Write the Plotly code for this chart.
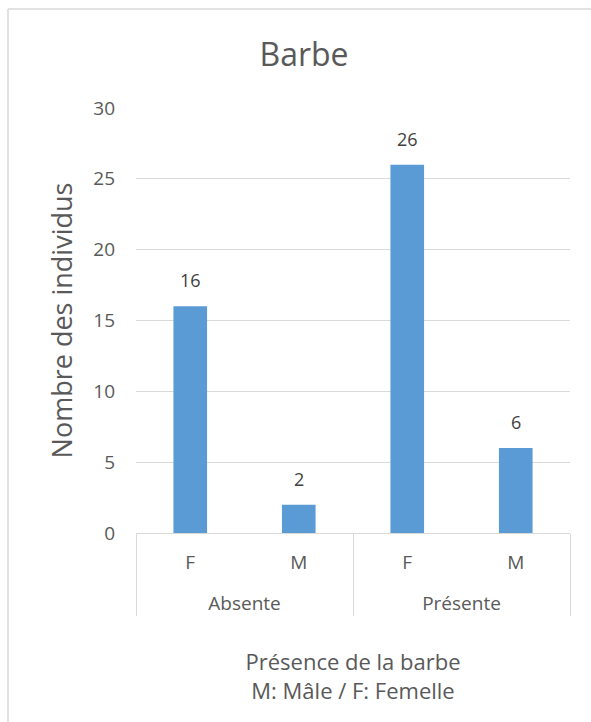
import plotly.graph_objects as go

# Presence of beard by sex
presence = ["Absente", "Absente", "Présente", "Présente"]
sexe = ["F", "M", "F", "M"]
effectifs = [16, 2, 26, 6]

y_ticks = [0, 5, 10, 15, 20, 25, 30]

TXT = "#595959"
FONT = "Open Sans"

W, H = 591, 722
ML, MR, MT, MB = 136, 21, 108, 189
PW, PH = W - ML - MR, H - MT - MB

# group labels get an empty leading line so they sit lower under the sex labels
group_labels = ["<br>" + p for p in presence]

fig = go.Figure(
    go.Bar(
        x=[group_labels, sexe],
        y=effectifs,
        marker=dict(color="#5b9bd5", line=dict(width=0)),
        width=0.31,
        cliponaxis=False,
    )
)

# value labels above each bar
for i, v in enumerate(effectifs):
    fig.add_annotation(x=i, y=v, xref="x", yref="y", text=str(v),
                       showarrow=False, yanchor="bottom", yshift=12,
                       font=dict(family=FONT, size=18, color="#404040"))

def px_x(p):
    return (p - ML) / PW

def px_y(p):
    return (H - MB - p) / PH

# chart frame (top and left edges visible)
fig.add_shape(type="line", xref="paper", yref="paper",
              x0=px_x(8), x1=px_x(W + 20), y0=px_y(9), y1=px_y(9),
              line=dict(color="#d9d9d9", width=1.5))
fig.add_shape(type="line", xref="paper", yref="paper",
              x0=px_x(8), x1=px_x(8), y0=px_y(9), y1=px_y(H + 20),
              line=dict(color="#d9d9d9", width=1.5))

fig.update_layout(
    width=W, height=H,
    margin=dict(l=ML, r=MR, t=MT, b=MB),
    paper_bgcolor="white", plot_bgcolor="white",
    showlegend=False,
    bargap=0.69,
    title=dict(text="Barbe", x=304 / W, xanchor="center", xref="container",
               y=1 - 55 / H, yanchor="middle", yref="container",
               font=dict(family=FONT, size=32, color=TXT)),
    font=dict(family=FONT, color=TXT),
)

fig.update_yaxes(
    range=[0, 30], tickvals=y_ticks, ticktext=[str(v) for v in y_ticks],
    showgrid=True, gridcolor="#d9d9d9", gridwidth=1,
    zeroline=False, showline=False,
    tickfont=dict(family=FONT, size=19, color=TXT),
    ticks="", ticklabelstandoff=20,
    title=dict(text="Nombre des individus", standoff=12,
               font=dict(family=FONT, size=27, color=TXT)),
)

fig.update_xaxes(
    type="multicategory",
    showline=True, linecolor="#d9d9d9", linewidth=1,
    showdividers=True, dividercolor="#d9d9d9", dividerwidth=1,
    ticks="", ticklabelstandoff=12,
    tickfont=dict(family=FONT, size=19, color=TXT),
    showgrid=False,
    title=dict(text="Présence de la barbe<br>M: Mâle / F: Femelle", standoff=40,
               font=dict(family=FONT, size=22, color=TXT)),
)

fig.write_html("out.html")
